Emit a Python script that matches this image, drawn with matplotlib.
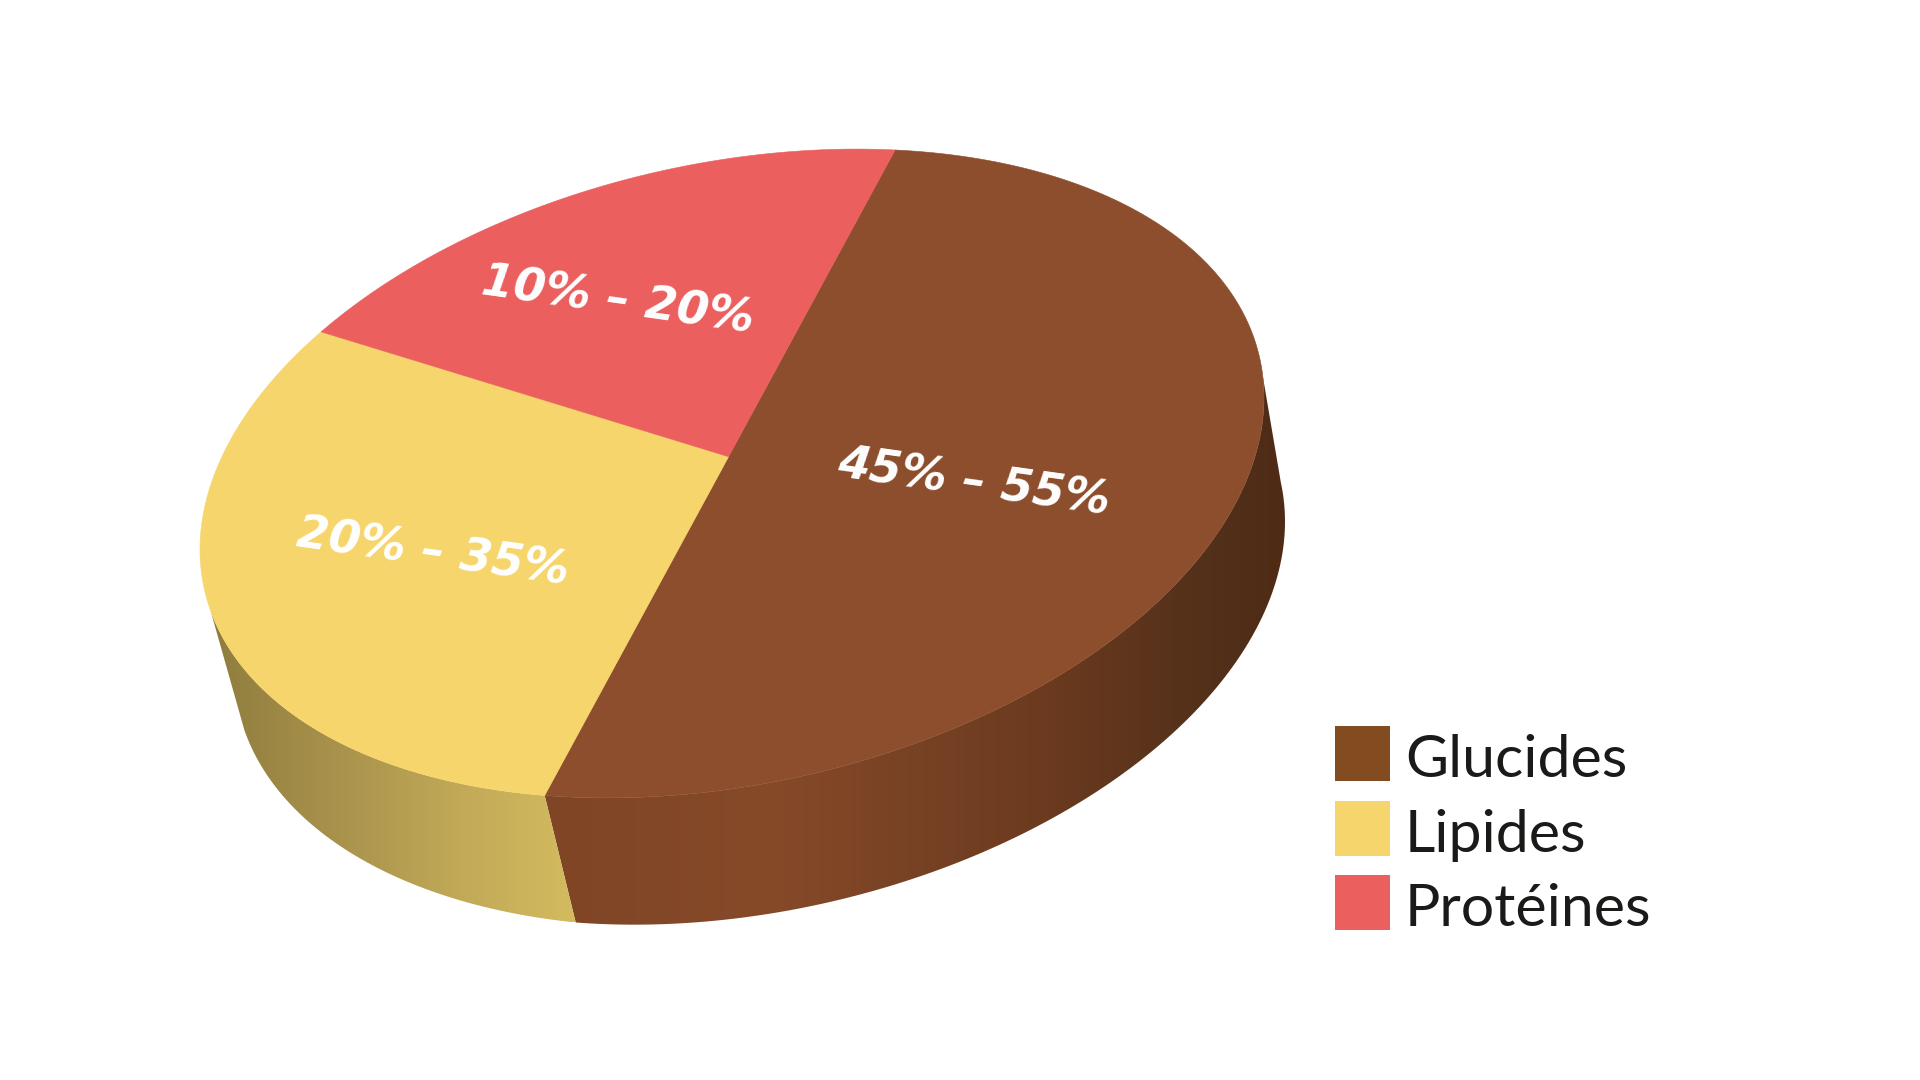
import numpy as np
import matplotlib
matplotlib.use('Agg')
import matplotlib.pyplot as plt
from matplotlib.colors import LinearSegmentedColormap
from matplotlib.patches import Polygon, Rectangle

# parts of the disc (sum = 100)
categories = ['Glucides', 'Lipides', 'Protéines']
shares = [50, 30, 20]
range_labels = ['45% – 55%', '20% – 35%', '10% – 20%']

top_colors = ['#8c4e2c', '#f6d56c', '#ec5f5f']
legend_colors = ['#834b20', '#f6d56c', '#ec5f5f']
label_pos = [(974, 483), (433, 553), (618, 301)]

# the disc as it sits on the page, in pixels of the 1920x1080 picture
center = np.array([732.0, 473.5])
M = np.array([[532.0, 0.0], [-76.0, 315.4]])
apex = np.array([728.6, 456.7])
start_angle = -70.8


def to_page(theta):
    # unit circle -> ellipse, with a projective shift so the circle centre lands on the apex
    u = np.column_stack([np.cos(theta), np.sin(theta)])
    v = np.linalg.solve(M, apex - center)
    g = 1 / np.sqrt(1 - v @ v)
    d = u @ v
    w = (u + ((g - 1) * d / (v @ v))[:, None] * v + g * v) / (g * (1 + d))[:, None]
    return center + w @ M.T


def drop(pts):
    # rim height and lean change a little from left to right
    dx = np.interp(pts[:, 0], [208, 545, 1264], [34, 31, 21])
    dy = np.interp(pts[:, 0], [208, 545, 1264], [120, 127, 124])
    return pts + np.column_stack([dx, dy])


fig = plt.figure(figsize=(19.2, 10.8), dpi=100)
ax = fig.add_axes([0, 0, 1, 1])
ax.set_xlim(0, 1920)
ax.set_ylim(1080, 0)
ax.axis('off')

bounds = np.radians(start_angle + np.cumsum([0] + shares) * 3.6)

# rim: only the front of the disc shows, from the right tangent round to the left one
edge_r, edge_b, edge_l = np.radians(-4), bounds[1], np.radians(165.5)
rims = [
    (np.linspace(edge_r, edge_b, 200), [(0, '#7f4525'), (0.3, '#864a29'), (0.68, '#6b3a1f'), (0.9, '#52301a'), (1, '#4f2b16')]),
    (np.linspace(edge_b, edge_l, 200), [(0, '#8f7c3d'), (0.3, '#a58f4a'), (0.7, '#c2aa58'), (1, '#d4bb5e')]),
]
for theta, stops in rims:
    top = to_page(theta)
    low = drop(top)
    outline = np.vstack([top, low[::-1]])
    x0, x1 = outline[:, 0].min(), outline[:, 0].max()
    cmap = LinearSegmentedColormap.from_list('rim', stops)
    im = ax.imshow(np.linspace(0, 1, 256)[None, :], cmap=cmap, aspect='auto', extent=[x0, x1, outline[:, 1].max(), outline[:, 1].min()], zorder=1)
    im.set_clip_path(Polygon(outline, closed=True, transform=ax.transData))
ax.set_xlim(0, 1920)
ax.set_ylim(1080, 0)

# top of the disc
for i in range(len(shares)):
    arc = to_page(np.linspace(bounds[i], bounds[i + 1], 300))
    pts = np.vstack([apex, arc])
    ax.add_patch(Polygon(pts, closed=True, facecolor=top_colors[i], edgecolor=top_colors[i], linewidth=0.4, zorder=2))

for text, (x, y) in zip(range_labels, label_pos):
    ax.text(x, y, text, color='white', fontsize=33, fontweight='bold', style='oblique', family='DejaVu Sans',
            rotation=-8, rotation_mode='anchor', ha='center', va='center', zorder=3)

# legend
legend_y = [726, 801, 875]
for name, col, y in zip(categories, legend_colors, legend_y):
    ax.add_patch(Rectangle((1335, y), 55, 55, facecolor=col, edgecolor='none'))
    ax.text(1405, y + 51, name, fontsize=42.5, family='Lato', fontweight='normal', color='#1a1a18', va='baseline', ha='left')

fig.savefig('out.png', dpi=100, facecolor='white')
